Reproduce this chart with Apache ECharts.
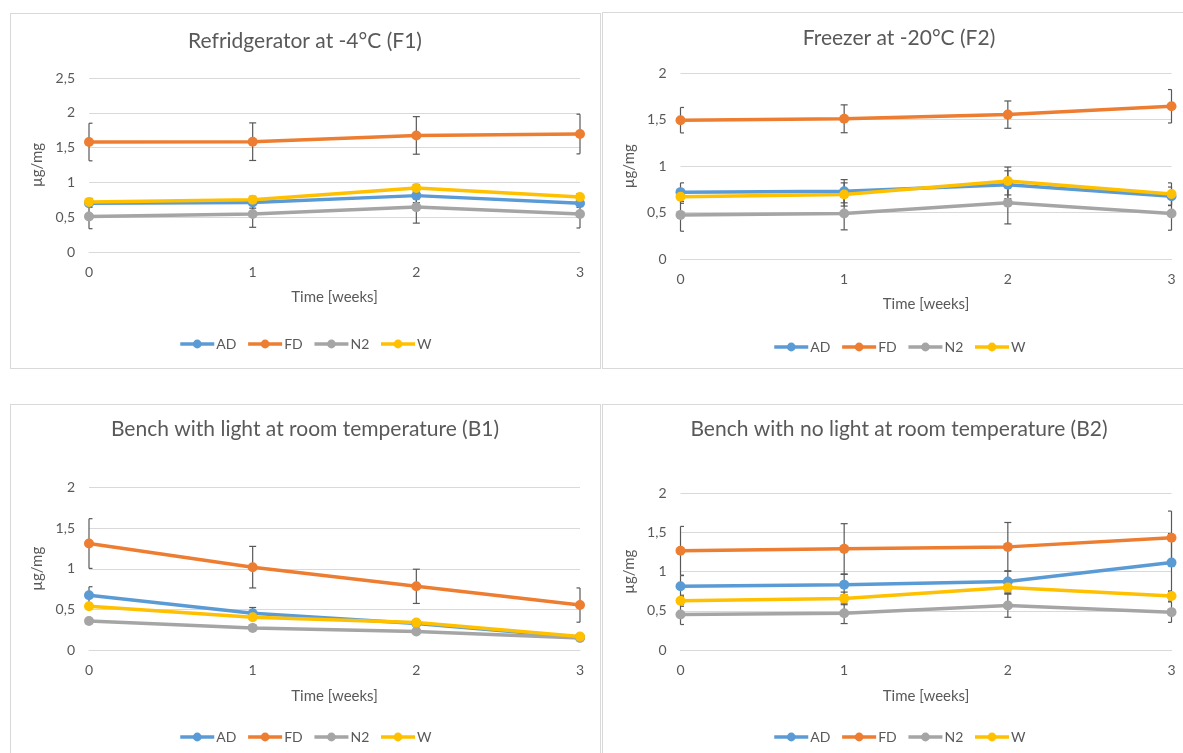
<!DOCTYPE html>
<html>
<head>
<meta charset="utf-8">
<script src="https://cdn.jsdelivr.net/npm/echarts@6/dist/echarts.min.js"></script>
<style>
  html, body { margin: 0; padding: 0; background: #fff; overflow: hidden; width: 1183px; height: 753px; }
  .chart { position: absolute; }
  .frame { position: absolute; box-sizing: border-box; border: 1px solid #d9d9d9; pointer-events: none; }
</style>
</head>
<body>
<div id="f1" class="chart" style="left:10px;top:13px;width:590px;height:356px"></div>
<div class="frame" style="left:10px;top:13px;width:591px;height:356px"></div>
<div id="f2" class="chart" style="left:602px;top:12px;width:594px;height:357px"></div>
<div class="frame" style="left:602px;top:12px;width:600px;height:357px"></div>
<div id="b1" class="chart" style="left:10px;top:404px;width:590px;height:349px"></div>
<div class="frame" style="left:10px;top:404px;width:591px;height:360px"></div>
<div id="b2" class="chart" style="left:602px;top:404px;width:594px;height:349px"></div>
<div class="frame" style="left:602px;top:404px;width:600px;height:360px"></div>

<script>
// Time points (weeks)
const weeks = ['0', '1', '2', '3'];
const seriesNames = ['AD', 'FD', 'N2', 'W'];
const seriesColors = ['#5B9BD5', '#ED7D31', '#A5A5A5', '#FFC000'];

// Refridgerator at -4°C (F1): means and standard deviations (µg/mg)
const f1AD = [0.70, 0.71, 0.81, 0.70];
const f1FD = [1.58, 1.585, 1.675, 1.695];
const f1N2 = [0.51, 0.545, 0.645, 0.545];
const f1W  = [0.72, 0.75, 0.92, 0.79];
const f1ADerr = [0.06, 0.08, 0.10, 0.06];
const f1FDerr = [0.27, 0.27, 0.27, 0.285];
const f1N2err = [0.175, 0.19, 0.23, 0.20];
const f1Werr  = [0.05, 0.05, 0.05, 0.05];

// Freezer at -20°C (F2)
const f2AD = [0.72, 0.73, 0.80, 0.675];
const f2FD = [1.495, 1.51, 1.555, 1.645];
const f2N2 = [0.475, 0.49, 0.605, 0.49];
const f2W  = [0.67, 0.695, 0.84, 0.70];
const f2ADerr = [0.10, 0.125, 0.15, 0.10];
const f2FDerr = [0.137, 0.15, 0.147, 0.18];
const f2N2err = [0.176, 0.176, 0.227, 0.18];
const f2Werr  = [0.07, 0.125, 0.15, 0.12];

// Bench with light at room temperature (B1)
const b1AD = [0.675, 0.455, 0.33, 0.16];
const b1FD = [1.31, 1.02, 0.785, 0.555];
const b1N2 = [0.36, 0.275, 0.23, 0.15];
const b1W  = [0.54, 0.405, 0.34, 0.17];
const b1ADerr = [0.105, 0.07, 0.04, 0.02];
const b1FDerr = [0.305, 0.255, 0.21, 0.21];
const b1N2err = [0.02, 0.02, 0.02, 0.02];
const b1Werr  = [0.03, 0.03, 0.03, 0.02];

// Bench with no light at room temperature (B2)
const b2AD = [0.815, 0.835, 0.875, 1.115];
const b2FD = [1.265, 1.29, 1.315, 1.43];
const b2N2 = [0.455, 0.47, 0.57, 0.485];
const b2W  = [0.63, 0.66, 0.80, 0.69];
const b2ADerr = [0.135, 0.13, 0.135, 0.37];
const b2FDerr = [0.31, 0.32, 0.31, 0.34];
const b2N2err = [0.127, 0.13, 0.15, 0.13];
const b2Werr  = [0.07, 0.08, 0.085, 0.065];

const FONT = 'Lato, "Open Sans", sans-serif';
const TEXT = '#595959';

// Vertical error bar with short caps; caps are cut at the plot edges
function renderErrorBar(params, api) {
  const x = api.value(0);
  const lo = api.coord([x, api.value(1)]);
  const hi = api.coord([x, api.value(2)]);
  const cs = params.coordSys;
  const cap = 3.5;
  const cx0 = Math.max(hi[0] - cap, cs.x);
  const cx1 = Math.min(hi[0] + cap, cs.x + cs.width);
  const style = { stroke: '#595959', lineWidth: 1.2, fill: null };
  return {
    type: 'group',
    children: [
      { type: 'line', shape: { x1: hi[0], y1: hi[1], x2: lo[0], y2: lo[1] }, style },
      { type: 'line', shape: { x1: cx0, y1: hi[1], x2: cx1, y2: hi[1] }, style },
      { type: 'line', shape: { x1: cx0, y1: lo[1], x2: cx1, y2: lo[1] }, style }
    ]
  };
}

function buildOption(cfg) {
  const errSeries = cfg.values.map((vals, k) => ({
    type: 'custom',
    name: seriesNames[k] + ' SD',
    renderItem: renderErrorBar,
    z: 2,
    silent: true,
    encode: { x: 0, y: [1, 2] },
    data: vals.map((v, i) => [i, v - cfg.errors[k][i], v + cfg.errors[k][i]])
  }));
  const lineSeries = cfg.values.map((vals, k) => ({
    type: 'line',
    name: seriesNames[k],
    data: vals,
    color: seriesColors[k],
    symbol: 'circle',
    symbolSize: 10,
    lineStyle: { width: 3.5, color: seriesColors[k] },
    itemStyle: { color: seriesColors[k] },
    z: 3,
    animation: false
  }));
  return {
    animation: false,
    textStyle: { fontFamily: FONT },
    title: {
      text: cfg.title,
      left: 'center',
      top: cfg.titleTop,
      padding: 0,
      textStyle: { fontSize: 21, fontWeight: 'normal', color: TEXT, fontFamily: FONT }
    },
    legend: {
      data: seriesNames,
      left: 'center',
      top: cfg.legendTop,
      padding: 0,
      itemWidth: 34,
      itemHeight: 11,
      itemGap: 10,
      lineStyle: { width: 3.5 },
      textStyle: { fontSize: 14, color: TEXT, fontFamily: FONT, padding: [0, 0, 0, -3] }
    },
    grid: { left: cfg.grid[0], top: cfg.grid[1], width: cfg.grid[2], height: cfg.grid[3] },
    xAxis: {
      type: 'category',
      data: weeks,
      boundaryGap: false,
      name: 'Time [weeks]',
      nameLocation: 'middle',
      nameGap: 38,
      nameTextStyle: { fontSize: 15, color: TEXT, fontFamily: FONT },
      axisLine: { show: true, lineStyle: { color: '#d9d9d9', width: 1 } },
      axisTick: { show: false },
      axisLabel: { fontSize: 14, color: TEXT, margin: 13, fontFamily: FONT },
      splitLine: { show: false }
    },
    yAxis: {
      type: 'value',
      min: 0,
      max: cfg.yMax,
      interval: 0.5,
      name: 'µg/mg',
      nameLocation: 'middle',
      nameGap: 35,
      nameTextStyle: { fontSize: 15, color: TEXT, fontFamily: FONT },
      axisLine: { show: false },
      axisTick: { show: false },
      axisLabel: {
        fontSize: 14, color: TEXT, margin: 14, fontFamily: FONT,
        formatter: v => String(v).replace('.', ',')
      },
      splitLine: { lineStyle: { color: '#d9d9d9', width: 1 } }
    },
    series: errSeries.concat(lineSeries)
  };
}

const panels = [
  {
    id: 'f1', title: 'Refridgerator at -4°C (F1)', yMax: 2.5,
    grid: [79, 65, 491, 174], titleTop: 18, legendTop: 324,
    values: [f1AD, f1FD, f1N2, f1W], errors: [f1ADerr, f1FDerr, f1N2err, f1Werr]
  },
  {
    id: 'f2', title: 'Freezer at -20°C (F2)', yMax: 2,
    grid: [78.5, 61.3, 491, 185.7], titleTop: 16, legendTop: 328,
    values: [f2AD, f2FD, f2N2, f2W], errors: [f2ADerr, f2FDerr, f2N2err, f2Werr]
  },
  {
    id: 'b1', title: 'Bench with light at room temperature (B1)', yMax: 2,
    grid: [79, 83.3, 491, 163], titleTop: 15, legendTop: 326,
    values: [b1AD, b1FD, b1N2, b1W], errors: [b1ADerr, b1FDerr, b1N2err, b1Werr]
  },
  {
    id: 'b2', title: 'Bench with no light at room temperature (B2)', yMax: 2,
    grid: [78.5, 89, 491, 157.3], titleTop: 15, legendTop: 326,
    values: [b2AD, b2FD, b2N2, b2W], errors: [b2ADerr, b2FDerr, b2N2err, b2Werr]
  }
];

panels.forEach(p => {
  const chart = echarts.init(document.getElementById(p.id), null, { renderer: 'canvas' });
  chart.setOption(buildOption(p));
});
</script>
</body>
</html>
